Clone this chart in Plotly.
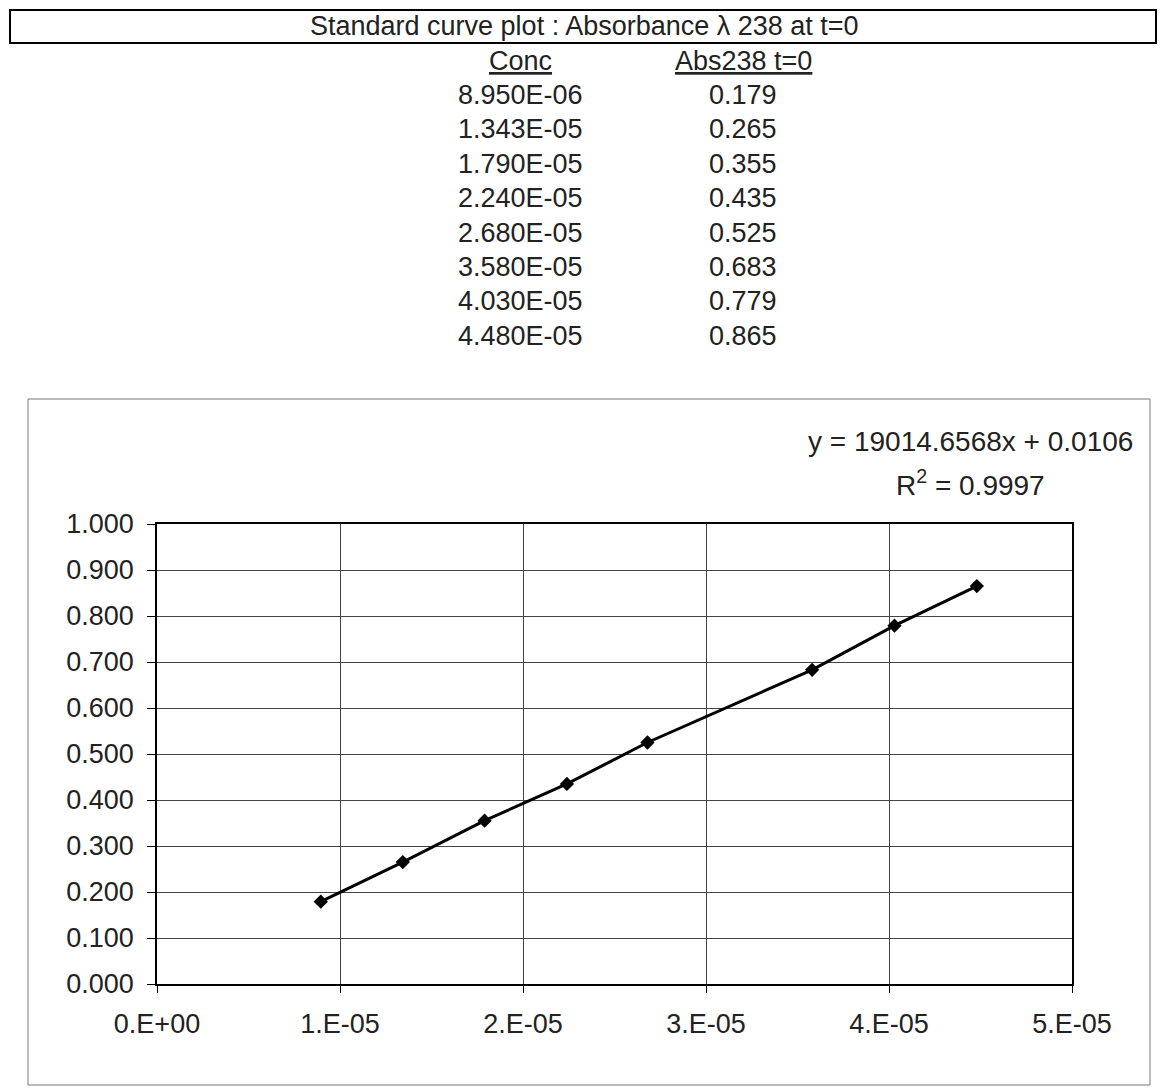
import plotly.graph_objects as go

# data read from the sheet
conc = [8.950e-06, 1.343e-05, 1.790e-05, 2.240e-05, 2.680e-05, 3.580e-05, 4.030e-05, 4.480e-05]
abs238 = [0.179, 0.265, 0.355, 0.435, 0.525, 0.683, 0.779, 0.865]

x_tickvals = [0, 1e-05, 2e-05, 3e-05, 4e-05, 5e-05]
x_ticktext = ["0.E+00", "1.E-05", "2.E-05", "3.E-05", "4.E-05", "5.E-05"]

fit_text = "y = 19014.6568x + 0.0106"
r2_text = "R<sup>2</sup> = 0.9997"
title_text = "Standard curve plot : Absorbance \u03bb 238 at t=0"

# page body has an 8px margin, so the figure starts at (8, 8)
OFF = 8
W, H = 1157, 1082
L, R, T, B = 157 - OFF, 93, 524 - OFF, 106
FONT = "Liberation Sans, Arial, sans-serif"


def px_x(p):
    return (p - OFF - L) / (W - L - R)


def px_y(p):
    return (H - B - (p - OFF)) / (H - T - B)


fig = go.Figure()

fig.add_trace(go.Scatter(
    x=conc,
    y=abs238,
    mode="lines+markers",
    line=dict(color="black", width=3),
    marker=dict(symbol="diamond", size=11, color="black"),
    showlegend=False,
    hoverinfo="skip"
))

annotations = []


def add_text(text, x, y, size=27):
    annotations.append(dict(
        text=text, x=px_x(x), y=px_y(y), xref="paper", yref="paper",
        xanchor="center", yanchor="middle", showarrow=False,
        font=dict(family=FONT, size=size, color="#222")
    ))


add_text(title_text, 584, 26, 27)
add_text("<u>Conc</u>", 520, 61)
add_text("<u>Abs238 t=0</u>", 743, 61)
for i, (c, a) in enumerate(zip(conc, abs238)):
    yy = 95 + i * 34.4
    add_text(f"{c:.3E}", 520, yy)
    add_text(f"{a:.3f}", 743, yy)

add_text(fit_text, 970, 442, 28)
add_text(r2_text, 970, 483, 28)

shapes = [
    # title box
    dict(type="rect", xref="paper", yref="paper",
         x0=px_x(10), x1=px_x(1156), y0=px_y(10), y1=px_y(43),
         line=dict(color="black", width=2)),
    # chart frame
    dict(type="rect", xref="paper", yref="paper",
         x0=px_x(28), x1=px_x(1150), y0=px_y(399), y1=px_y(1085),
         line=dict(color="#777", width=1)),
]

fig.update_layout(
    width=W, height=H,
    margin=dict(l=L, r=R, t=T, b=B),
    paper_bgcolor="white",
    plot_bgcolor="white",
    annotations=annotations,
    shapes=shapes,
    font=dict(family=FONT, size=27, color="#222"),
    xaxis=dict(
        range=[0, 5e-05],
        tickmode="array", tickvals=x_tickvals, ticktext=x_ticktext,
        showgrid=True, gridcolor="#444", gridwidth=1,
        showline=True, linecolor="black", linewidth=1.5, mirror=True,
        ticks="outside", ticklen=7, tickcolor="black",
        ticklabelstandoff=8, zeroline=False
    ),
    yaxis=dict(
        range=[0, 1], dtick=0.1, tickformat=".3f",
        showgrid=True, gridcolor="#444", gridwidth=1,
        showline=True, linecolor="black", linewidth=1.5, mirror=True,
        ticks="outside", ticklen=8, tickcolor="black",
        ticklabelstandoff=8, zeroline=False
    )
)

fig.write_html("out.html")
